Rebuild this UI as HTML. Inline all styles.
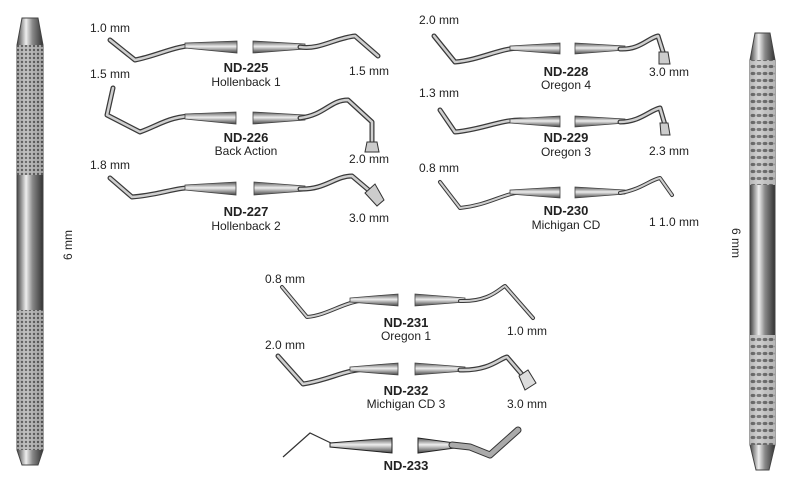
<!DOCTYPE html>
<html><head><meta charset="utf-8"><style>
html,body{margin:0;padding:0;background:#fff;}
svg{display:block}
text{font-family:"Liberation Sans",sans-serif;fill:#222;}
.t{font-size:12px}
.b{font-size:13px;font-weight:bold;text-anchor:middle}
.n{font-size:12px;text-anchor:middle}
.o{fill:none;stroke:#3a3a3a;stroke-linecap:round;stroke-linejoin:round}
.m{fill:none;stroke:#cfcfcf;stroke-linecap:round;stroke-linejoin:round}
</style></head><body>
<svg width="800" height="480" viewBox="0 0 800 480">
<defs>
<linearGradient id="hg" x1="0" y1="0" x2="1" y2="0"><stop offset="0" stop-color="#444"/><stop offset=".35" stop-color="#eee"/><stop offset=".6" stop-color="#888"/><stop offset="1" stop-color="#333"/></linearGradient>
<linearGradient id="sg" x1="0" y1="0" x2="0" y2="1"><stop offset="0" stop-color="#555"/><stop offset=".45" stop-color="#eee"/><stop offset="1" stop-color="#444"/></linearGradient>
<pattern id="kn" width="4" height="4" patternUnits="userSpaceOnUse"><rect width="4" height="4" fill="#bbb"/><circle cx="2" cy="2" r="1.2" fill="#555"/></pattern>
<pattern id="kn2" width="6" height="7" patternUnits="userSpaceOnUse"><rect width="6" height="7" fill="#ccc"/><ellipse cx="3" cy="3.5" rx="2.4" ry="1.6" fill="#666"/></pattern>
</defs>
<path d="M22 18 L38 18 L43 45 L43 450 L38 465 L22 465 L17 450 L17 45 Z" fill="url(#hg)" stroke="#444"/>
<rect x="17" y="45" width="26" height="130" fill="url(#kn)" opacity=".85"/>
<rect x="17" y="310" width="26" height="140" fill="url(#kn)" opacity=".85"/>
<text class="t" transform="translate(72,260) rotate(-90)">6 mm</text>
<path d="M755 33 L770 33 L775 60 L775 445 L769 470 L756 470 L750 445 L750 60 Z" fill="url(#hg)" stroke="#444"/>
<rect x="750" y="60" width="25" height="125" fill="url(#kn2)" opacity=".85"/>
<rect x="750" y="335" width="25" height="110" fill="url(#kn2)" opacity=".85"/>
<text class="t" transform="translate(732,228) rotate(90)">6 mm</text>

<!-- ND-225 -->
<path class="o" stroke-width="5" d="M110 40 L135 60 C160 55 175 45 200 45 L230 46"/>
<path class="m" stroke-width="2.5" d="M110 40 L135 60 C160 55 175 45 200 45 L230 46"/>
<path d="M185 43 L237 41 L237 53 L185 48 Z" fill="url(#sg)" stroke="#444" stroke-width=".8"/>
<path d="M253 41 L305 44 L305 49 L253 53 Z" fill="url(#sg)" stroke="#444" stroke-width=".8"/>
<path class="o" stroke-width="5" d="M300 47 C320 50 335 38 355 36 L378 56"/>
<path class="m" stroke-width="2.5" d="M300 47 C320 50 335 38 355 36 L378 56"/>
<!-- ND-226 -->
<path class="o" stroke-width="5" d="M113 88 L107 115 L140 132 C160 125 170 115 200 116 L225 117"/>
<path class="m" stroke-width="2.5" d="M113 88 L107 115 L140 132 C160 125 170 115 200 116 L225 117"/>
<path d="M185 114 L236 112 L236 124 L185 119 Z" fill="url(#sg)" stroke="#444" stroke-width=".8"/>
<path d="M253 112 L305 115 L305 120 L253 124 Z" fill="url(#sg)" stroke="#444" stroke-width=".8"/>
<path class="o" stroke-width="5" d="M300 118 C325 115 330 100 348 100 L372 122 L372 145"/>
<path class="m" stroke-width="2.5" d="M300 118 C325 115 330 100 348 100 L372 122 L372 145"/>
<path d="M367 142 L377 142 L379 152 L365 152 Z" fill="#ccc" stroke="#333"/>
<!-- ND-227 -->
<path class="o" stroke-width="5" d="M110 178 L132 197 C160 195 175 187 200 187 L225 188"/>
<path class="m" stroke-width="2.5" d="M110 178 L132 197 C160 195 175 187 200 187 L225 188"/>
<path d="M185 185 L236 182 L236 195 L185 190 Z" fill="url(#sg)" stroke="#444" stroke-width=".8"/>
<path d="M254 182 L305 186 L305 191 L254 195 Z" fill="url(#sg)" stroke="#444" stroke-width=".8"/>
<path class="o" stroke-width="5" d="M300 189 C325 190 335 176 352 176 L378 198"/>
<path class="m" stroke-width="2.5" d="M300 189 C325 190 335 176 352 176 L378 198"/>
<path d="M365 193 L375 184 L384 200 L377 206 Z" fill="#ccc" stroke="#333"/>
<!-- ND-228 -->
<path class="o" stroke-width="5" d="M434 36 L455 62 C480 60 500 48 520 48 L550 48"/>
<path class="m" stroke-width="2.5" d="M434 36 L455 62 C480 60 500 48 520 48 L550 48"/>
<path d="M510 46 L560 43 L560 54 L510 50 Z" fill="url(#sg)" stroke="#444" stroke-width=".8"/>
<path d="M575 43 L625 46 L625 50 L575 54 Z" fill="url(#sg)" stroke="#444" stroke-width=".8"/>
<path class="o" stroke-width="5" d="M620 49 C640 50 648 38 658 36 L664 55"/>
<path class="m" stroke-width="2.5" d="M620 49 C640 50 648 38 658 36 L664 55"/>
<path d="M659 52 L668 52 L670 64 L659 64 Z" fill="#ccc" stroke="#333"/>
<!-- ND-229 -->
<path class="o" stroke-width="5" d="M440 110 L455 132 C480 130 500 120 520 120 L550 121"/>
<path class="m" stroke-width="2.5" d="M440 110 L455 132 C480 130 500 120 520 120 L550 121"/>
<path d="M510 119 L560 116 L560 127 L510 123 Z" fill="url(#sg)" stroke="#444" stroke-width=".8"/>
<path d="M575 116 L625 119 L625 123 L575 127 Z" fill="url(#sg)" stroke="#444" stroke-width=".8"/>
<path class="o" stroke-width="5" d="M620 122 C640 122 650 110 660 108 L665 125"/>
<path class="m" stroke-width="2.5" d="M620 122 C640 122 650 110 660 108 L665 125"/>
<path d="M660 123 L668 123 L670 135 L661 135 Z" fill="#ccc" stroke="#333"/>
<!-- ND-230 -->
<path class="o" stroke-width="4" d="M440 182 L460 208 C490 205 505 192 525 192 L550 192"/>
<path class="m" stroke-width="2" d="M440 182 L460 208 C490 205 505 192 525 192 L550 192"/>
<path d="M510 190 L560 187 L560 198 L510 194 Z" fill="url(#sg)" stroke="#444" stroke-width=".8"/>
<path d="M575 187 L625 190 L625 194 L575 198 Z" fill="url(#sg)" stroke="#444" stroke-width=".8"/>
<path class="o" stroke-width="4" d="M620 193 C640 190 650 180 660 178 L672 195"/>
<path class="m" stroke-width="2" d="M620 193 C640 190 650 180 660 178 L672 195"/>
<!-- ND-231 -->
<path class="o" stroke-width="4" d="M282 287 L307 317 C330 315 345 300 370 300 L390 299"/>
<path class="m" stroke-width="2" d="M282 287 L307 317 C330 315 345 300 370 300 L390 299"/>
<path d="M350 298 L398 294 L398 306 L350 302 Z" fill="url(#sg)" stroke="#444" stroke-width=".8"/>
<path d="M415 294 L465 298 L465 302 L415 306 Z" fill="url(#sg)" stroke="#444" stroke-width=".8"/>
<path class="o" stroke-width="4" d="M460 301 C490 302 500 288 505 286 L533 318"/>
<path class="m" stroke-width="2" d="M460 301 C490 302 500 288 505 286 L533 318"/>
<!-- ND-232 -->
<path class="o" stroke-width="5" d="M278 356 L303 384 C330 380 345 369 370 369 L390 369"/>
<path class="m" stroke-width="2.5" d="M278 356 L303 384 C330 380 345 369 370 369 L390 369"/>
<path d="M350 367 L398 363 L398 375 L350 371 Z" fill="url(#sg)" stroke="#444" stroke-width=".8"/>
<path d="M415 363 L465 367 L465 371 L415 375 Z" fill="url(#sg)" stroke="#444" stroke-width=".8"/>
<path class="o" stroke-width="5" d="M460 370 C490 371 500 358 507 357 L525 378"/>
<path class="m" stroke-width="2.5" d="M460 370 C490 371 500 358 507 357 L525 378"/>
<path d="M519 376 L528 370 L536 383 L525 390 Z" fill="#ddd" stroke="#333"/>
<!-- ND-233 -->
<path d="M283 457 L310 433 L333 444" fill="none" stroke="#333" stroke-width="1.2"/>
<path d="M330 443 L392 438 L392 453 L330 447 Z" fill="url(#sg)" stroke="#222" stroke-width="1"/>
<path d="M418 438 L455 443 L455 448 L418 453 Z" fill="url(#sg)" stroke="#222" stroke-width="1"/>
<path d="M452 445 L470 447 L490 455 L518 430" fill="none" stroke="#333" stroke-width="7" stroke-linecap="round" stroke-linejoin="round"/>
<path d="M452 445 L470 447 L490 455 L518 430" fill="none" stroke="#aaa" stroke-width="5" stroke-linecap="round" stroke-linejoin="round"/>

<text class="t" x="90" y="32">1.0 mm</text>
<text class="b" x="246" y="72">ND-225</text>
<text class="n" x="246" y="86">Hollenback 1</text>
<text class="t" x="349" y="75">1.5 mm</text>
<text class="t" x="90" y="78">1.5 mm</text>
<text class="b" x="246" y="142">ND-226</text>
<text class="n" x="246" y="155">Back Action</text>
<text class="t" x="349" y="163">2.0 mm</text>
<text class="t" x="90" y="169">1.8 mm</text>
<text class="b" x="246" y="216">ND-227</text>
<text class="n" x="246" y="230">Hollenback 2</text>
<text class="t" x="349" y="222">3.0 mm</text>

<text class="t" x="419" y="24">2.0 mm</text>
<text class="b" x="566" y="76">ND-228</text>
<text class="n" x="566" y="89">Oregon 4</text>
<text class="t" x="649" y="76">3.0 mm</text>
<text class="t" x="419" y="97">1.3 mm</text>
<text class="b" x="566" y="142">ND-229</text>
<text class="n" x="566" y="156">Oregon 3</text>
<text class="t" x="649" y="155">2.3 mm</text>
<text class="t" x="419" y="172">0.8 mm</text>
<text class="b" x="566" y="215">ND-230</text>
<text class="n" x="566" y="229">Michigan CD</text>
<text class="t" x="649" y="226">1 1.0 mm</text>

<text class="t" x="265" y="283">0.8 mm</text>
<text class="b" x="406" y="327">ND-231</text>
<text class="n" x="406" y="340">Oregon 1</text>
<text class="t" x="507" y="335">1.0 mm</text>
<text class="t" x="265" y="349">2.0 mm</text>
<text class="b" x="406" y="395">ND-232</text>
<text class="n" x="406" y="408">Michigan CD 3</text>
<text class="t" x="507" y="408">3.0 mm</text>
<text class="b" x="406" y="470">ND-233</text>
</svg>
</body></html>
